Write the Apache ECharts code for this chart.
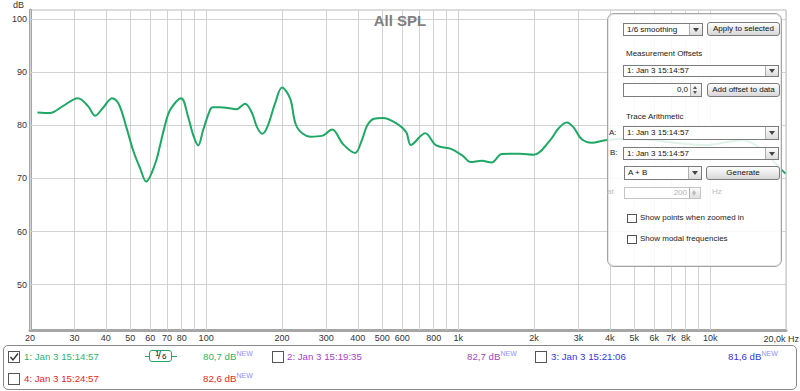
<!DOCTYPE html>
<html><head><meta charset="utf-8">
<script src="https://cdn.jsdelivr.net/npm/echarts@6/dist/echarts.min.js"></script>
<style>
html,body{margin:0;padding:0;background:#fff;}
#wrap{position:relative;width:800px;height:391px;overflow:hidden;font-family:"Liberation Sans",Arial,sans-serif;}
#chart{position:absolute;left:0;top:0;width:800px;height:391px;}
.a{position:absolute;box-sizing:border-box;white-space:nowrap;}
.panel{left:607px;top:13px;width:175px;height:254px;border:1px solid #a4a4a4;border-radius:7px;background:rgba(255,255,255,0.86);box-shadow:inset 0 0 0 1px #e6e6e6;}
.t{font-size:8px;color:#222;line-height:10px;height:10px;}
.dd{background:#fff;border:1px solid #7c7c7c;font-size:8px;color:#111;padding-left:3px;}
.dd .arr{position:absolute;right:0;top:0;bottom:0;width:12px;background:linear-gradient(#fbfbfb,#dcdcdc);border-left:1px solid #b0b0b0;}
.arr:after{content:"";position:absolute;left:3px;top:50%;margin-top:-2px;border-left:3px solid transparent;border-right:3px solid transparent;border-top:4px solid #444;}
.btn{border:1px solid #7c7c7c;border-radius:3px;background:linear-gradient(#fdfdfd,#d8d8d8);font-size:8px;color:#111;text-align:center;}
.sp{background:#fff;border:1px solid #7c7c7c;font-size:8px;color:#111;text-align:right;padding-right:13px;}
.sp .ud{position:absolute;right:0;top:0;bottom:0;width:10px;border-left:1px solid #b0b0b0;background:linear-gradient(#fbfbfb,#e0e0e0);}
.ud:before{content:"";position:absolute;left:2px;top:2px;border-left:2.5px solid transparent;border-right:2.5px solid transparent;border-bottom:3px solid #555;}
.ud:after{content:"";position:absolute;left:2px;bottom:2px;border-left:2.5px solid transparent;border-right:2.5px solid transparent;border-top:3px solid #555;}
.dis{border-color:#c4c4c4;color:#b4b4b4;}
.dis .ud:before{border-bottom-color:#bbb;} .dis .ud:after{border-top-color:#bbb;}
.cbs{width:10px;height:9px;border:1px solid #555;background:#fff;}
.cb{width:12px;height:12px;border:1px solid #555;background:#fff;}
.lg{font-size:9.7px;line-height:12px;height:12px;}
.new{font-size:7px;color:#8f8fff;position:relative;top:-4px;}
.legend{left:3px;top:345px;width:794px;height:45px;border:1px solid #8a8a8a;border-radius:5px;background:#fff;}
</style></head>
<body><div id="wrap"><div id="chart"></div></div>
<script>
// ---- data ----
const freqHz = [21.4, 24, 27, 31, 34, 36.3, 39, 42.4, 45, 48.2, 51.3, 54.7, 57.8, 62.8, 65.7, 68.4, 72, 79.6, 84.8, 88.8, 93, 97.3, 103.7, 106.6, 114, 122, 131.5, 142.8, 152, 159, 166.8, 175, 188, 200, 215.5, 229, 258.7, 288, 316, 350, 390, 415, 436, 464, 503, 567, 622, 649, 740, 818, 930, 1047, 1116, 1242, 1357, 1491, 1762, 1990, 2320, 2500, 2700, 2870, 3097, 3393, 3830, 4500, 5500, 6500, 7500, 8500, 9820, 11500, 13500, 16000, 18500, 19900];
const splDb = [82.4, 82.3, 83.6, 85.1, 83.6, 81.8, 83.3, 85.1, 84.0, 79.7, 75.3, 71.9, 69.4, 72.8, 76.3, 79.7, 82.9, 85.1, 81.6, 78.2, 76.2, 79.1, 82.9, 83.4, 83.4, 83.25, 83.0, 84.06, 82.3, 79.7, 78.4, 79.7, 84.2, 87.1, 85.0, 79.7, 77.85, 78.0, 79.2, 76.4, 74.8, 77.2, 80.0, 81.24, 81.37, 80.4, 78.7, 76.3, 78.5, 76.2, 75.6, 74.2, 73.1, 73.3, 73.0, 74.6, 74.65, 74.45, 77.2, 79.4, 80.5, 79.6, 77.35, 76.7, 77.2, 77.4, 77.3, 77.0, 76.6, 76.4, 76.3, 76.8, 77.2, 75.5, 72.4, 70.9];
const gridFreqs = [20,30,40,50,60,70,80,90,100,200,300,400,500,600,700,800,900,1000,2000,3000,4000,5000,6000,7000,8000,9000,10000,20000];
const xTickFreqs = [20,30,40,50,60,70,80,100,200,300,400,500,600,800,1000,2000,3000,4000,5000,6000,7000,8000,10000];
const xTickLabels = ['20','30','40','50','60','70','80','100','200','300','400','500','600','800','1k','2k','3k','4k','5k','6k','7k','8k','10k'];
const xEndLabel = '20,0k Hz';
const yTicks = [50,60,70,80,90,100];
const yUnit = 'dB';
const chartTitle = 'All SPL';

const chart = echarts.init(document.getElementById('chart'), null, {renderer:'svg'});
const gridLine = {color:'#d2d2d2', width:1, type:'solid'};
const xMarks = gridFreqs.map(f => {
  const i = xTickFreqs.indexOf(f);
  return {xAxis:f, lineStyle:gridLine,
    label:{show:i>=0, position:'start', distance:3, formatter: i>=0 ? xTickLabels[i] : '', color:'#333', fontSize:9, fontFamily:'Liberation Sans'}};
});
const yMarks = yTicks.map(v => ({yAxis:v, lineStyle:gridLine,
  label:{show:true, position:'start', distance:3, formatter:String(v), color:'#333', fontSize:9, fontFamily:'Liberation Sans'}}));

chart.setOption({
  animation:false,
  backgroundColor:'#fff',
  title:{text:chartTitle, left:'center', top:13, padding:0,
    textStyle:{color:'#7f7f7f', fontSize:15, fontWeight:'bold', fontFamily:'Liberation Sans'}},
  grid:{left:30, right:14, top:10, bottom:61, show:true, borderColor:'#b8b8b8', borderWidth:1, backgroundColor:'#fff'},
  xAxis:{type:'log', logBase:10, min:20, max:20000,
    axisLine:{show:true, onZero:false, lineStyle:{color:'#a6a6a6', width:3}},
    axisTick:{show:false}, axisLabel:{show:false}, splitLine:{show:false}, minorSplitLine:{show:false}},
  yAxis:{type:'value', min:41.47, max:101.69,
    axisLine:{show:true, lineStyle:{color:'#a6a6a6', width:3}},
    axisTick:{show:false}, axisLabel:{show:false}, splitLine:{show:false}},
  graphic:[
    {type:'text', left:13, top:0, style:{text:yUnit, fill:'#333', font:'9px "Liberation Sans"'}},
    {type:'text', right:1, top:334, style:{text:xEndLabel, fill:'#333', font:'9px "Liberation Sans"'}}
  ],
  series:[
    {type:'line', name:'grid', data:[], silent:true,
      markLine:{silent:true, symbol:['none','none'], animation:false, emphasis:{disabled:true},
        data: xMarks.concat(yMarks)}},
    {type:'line', name:'1: Jan 3 15:14:57', data: freqHz.map((f,i)=>[f, splDb[i]]),
      showSymbol:false, smooth:0.35, silent:true, z:5,
      lineStyle:{color:'#1fa865', width:2}}
  ]
});

// ---- overlay: control panel and legend (real text) ----
const W = document.getElementById('wrap');
function el(cls, x, y, w, h, html, extra){
  const d = document.createElement('div');
  d.className = 'a ' + cls;
  d.style.left = x+'px'; d.style.top = y+'px';
  if (w!=null) d.style.width = w+'px';
  if (h!=null) { d.style.height = h+'px'; }
  if (html!=null) d.innerHTML = html;
  if (extra) Object.assign(d.style, extra);
  W.appendChild(d); return d;
}
el('panel', 607, 13, 175, 254);
function dd(x,y,w,h,txt,extra){ const d=el('dd',x,y,w,h,txt+'<div class="arr"></div>'); d.style.lineHeight=(h-2)+'px'; if(extra)Object.assign(d.style,extra); return d; }
function btn(x,y,w,h,txt){ const d=el('btn',x,y,w,h,txt); d.style.lineHeight=(h-2)+'px'; return d; }
function sp(x,y,w,h,txt,cls){ const d=el('sp '+(cls||''),x,y,w,h,txt+'<div class="ud"></div>'); d.style.lineHeight=(h-2)+'px'; return d; }
function t(x,cy,txt,color){ return el('t',x,cy-5,null,null,txt, color?{color:color}:null); }
dd(623,23,80,13,'1/6 smoothing');
btn(707,22,73,14,'Apply to selected');
t(626,54,'Measurement Offsets');
dd(623,65,156,12,'1: Jan 3 15:14:57');
sp(623,83,79,14,'0,0');
btn(707,83,73,14,'Add offset to data');
t(626,117,'Trace Arithmetic');
t(609,133,'A:');
dd(623,126,156,14,'1: Jan 3 15:14:57');
t(610,153,'B:');
dd(623,147,156,13,'1: Jan 3 15:14:57');
dd(624,166,78,14,'A + B');
btn(706,166,74,14,'Generate');
t(607,192,'at','#bdbdbd');
sp(624,187,77,12,'200','dis');
t(712,192,'Hz','#bdbdbd');
el('cbs',627,214);
t(640,218,'Show points when zoomed in');
el('cbs',627,235);
t(640,239,'Show modal frequencies');

// legend
el('legend',3,345,794,45);
const check = '<svg width="10" height="10" style="position:absolute;left:0;top:0"><polyline points="1.5,5 4,8 9,1.5" fill="none" stroke="#333" stroke-width="1.4"/></svg>';
const measNames = ['1: Jan 3 15:14:57','2: Jan 3 15:19:35','3: Jan 3 15:21:06','4: Jan 3 15:24:57'];
const measLevels = ['80,7 dB','82,7 dB','81,6 dB','82,6 dB'];
const measColors = ['#33b06c','#a044c4','#3535dc','#e8261e'];
const newTag = 'NEW';
const slots = [
  {cb:[8,351], name:[24,351], lvl:[203,351], checked:true},
  {cb:[272,351], name:[287,351], lvl:[467,351]},
  {cb:[535,351], name:[551,351], lvl:[728,351]},
  {cb:[8,373], name:[24,373], lvl:[203,373]}
];
slots.forEach((s,i)=>{
  el('cb', s.cb[0], s.cb[1], null, null, s.checked?check:'');
  el('lg', s.name[0], s.name[1], null, null, measNames[i], {color:measColors[i]});
  el('lg', s.lvl[0], s.lvl[1], null, null, measLevels[i]+'<span class="new">'+newTag+'</span>', {color:measColors[i]});
});
// smoothing indicator
el('', 145, 355.5, 32, 1.5, null, {background:'#1fa865'});
el('', 149, 350, 23, 12, '<span style="position:absolute;left:5px;top:-2px;font-size:8px;line-height:9px">1</span><span style="position:absolute;left:8px;top:-1px;font-size:10px;line-height:11px">/</span><span style="position:absolute;left:12px;top:1px;font-size:8px;line-height:9px">6</span>',
  {border:'1.5px solid #1fa865', borderRadius:'3px', background:'#fff', color:'#111'});
</script></body></html>
